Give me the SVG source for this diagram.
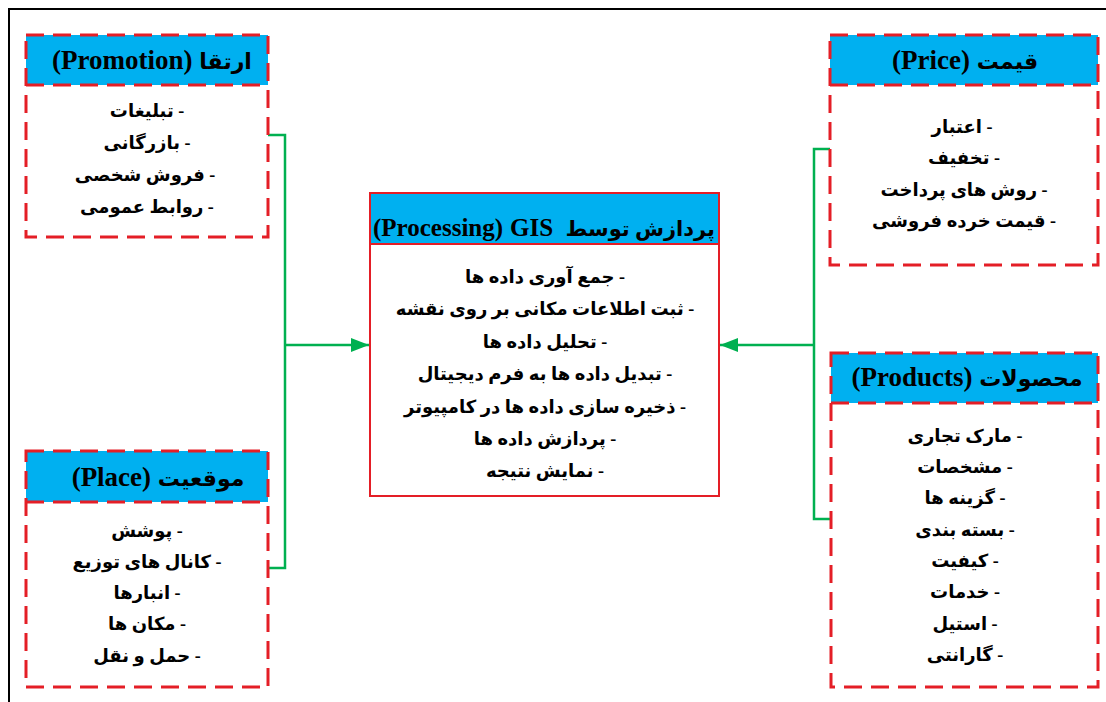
<svg xmlns="http://www.w3.org/2000/svg" width="1106" height="702" viewBox="0 0 1106 702">
<defs>
<marker id="arr" viewBox="0 0 18 14" refX="18" refY="7" markerWidth="18" markerHeight="14" markerUnits="userSpaceOnUse" orient="auto">
<path d="M0,0 L18,7 L0,14 Z" fill="#00B050"/>
</marker>
</defs>
<style>
.frame{fill:none;stroke:#000;stroke-width:2}
.hdr{fill:#00B0F0}
.dash{fill:none;stroke:#E41E26;stroke-width:3;stroke-dasharray:18 9}
.solid{fill:none;stroke:#E41E26;stroke-width:2}
.conn{fill:none;stroke:#00B050;stroke-width:2.5}
text{font-family:"Liberation Serif","DejaVu Sans",serif;font-weight:bold;fill:#000;text-anchor:middle;direction:rtl}
.h{font-size:27px}
.ha{font-size:22px}
.i{font-size:18px}
.ltr{direction:ltr;text-anchor:start;font-size:25px}
.rtl-end{text-anchor:start;font-size:21px}
</style>
<rect class="frame" x="9" y="9" width="1110" height="710"/>

<g id="connectors">
<polyline class="conn" points="268,135 285,135 285,568 268,568"/>
<line class="conn" x1="285" y1="345" x2="369" y2="345" marker-end="url(#arr)"/>
<polyline class="conn" points="830,149 814,149 814,519 831,519"/>
<line class="conn" x1="814" y1="345" x2="720" y2="345" marker-end="url(#arr)"/>
</g>

<g id="promotion">
<rect class="hdr" x="26" y="35" width="242" height="50"/>
<rect class="dash" x="26" y="35" width="242" height="202"/>
<line class="dash" x1="26" y1="85" x2="268" y2="85"/>
<text class="h" x="152" y="69"><tspan class="ha">ارتقا</tspan> (Promotion)</text>
<text class="i" x="147" y="117">- تبلیغات</text>
<text class="i" x="147" y="149">- بازرگانی</text>
<text class="i" x="145" y="181">- فروش شخصی</text>
<text class="i" x="147" y="213">- روابط عمومی</text>
</g>

<g id="price">
<rect class="hdr" x="830" y="35" width="268" height="50"/>
<rect class="dash" x="830" y="35" width="268" height="230"/>
<line class="dash" x1="830" y1="85" x2="1098" y2="85"/>
<text class="h" x="965" y="69"><tspan class="ha">قیمت</tspan> (Price)</text>
<text class="i" x="962" y="133">- اعتبار</text>
<text class="i" x="964" y="164">- تخفیف</text>
<text class="i" x="964" y="196">- روش های پرداخت</text>
<text class="i" x="964" y="227">- قیمت خرده فروشی</text>
</g>

<g id="processing">
<rect class="hdr" x="370" y="193" width="349" height="51"/>
<rect class="solid" x="370" y="193" width="349" height="303"/>
<line class="solid" x1="370" y1="244" x2="719" y2="244"/>
<text class="rtl-end" x="715" y="236">پردازش توسط</text>
<text class="ltr" x="510" y="236">GIS</text>
<text class="ltr" x="373" y="236">(Processing)</text>
<text class="i" x="545" y="283">- جمع آوری داده ها</text>
<text class="i" x="545" y="315">- ثبت اطلاعات مکانی بر روی نقشه</text>
<text class="i" x="545" y="348">- تحلیل داده ها</text>
<text class="i" x="545" y="380">- تبدیل داده ها به فرم دیجیتال</text>
<text class="i" x="545" y="413">- ذخیره سازی داده ها در کامپیوتر</text>
<text class="i" x="545" y="445">- پردازش داده ها</text>
<text class="i" x="545" y="477">- نمایش نتیجه</text>
</g>

<g id="place">
<rect class="hdr" x="26" y="451" width="242" height="51"/>
<rect class="dash" x="26" y="451" width="242" height="236"/>
<line class="dash" x1="26" y1="502" x2="268" y2="502"/>
<text class="h" x="158" y="486"><tspan class="ha">موقعیت</tspan> (Place)</text>
<text class="i" x="147" y="537">- پوشش</text>
<text class="i" x="147" y="568">- کانال های توزیع</text>
<text class="i" x="147" y="599">- انبارها</text>
<text class="i" x="147" y="630">- مکان ها</text>
<text class="i" x="147" y="662">- حمل و نقل</text>
</g>

<g id="products">
<rect class="hdr" x="831" y="353" width="267" height="50"/>
<rect class="dash" x="831" y="353" width="267" height="334"/>
<line class="dash" x1="831" y1="403" x2="1098" y2="403"/>
<text class="h" x="967" y="386"><tspan class="ha">محصولات</tspan> (Products)</text>
<text class="i" x="965" y="442">- مارک تجاری</text>
<text class="i" x="965" y="473">- مشخصات</text>
<text class="i" x="965" y="504">- گزینه ها</text>
<text class="i" x="965" y="536">- بسته بندی</text>
<text class="i" x="965" y="567">- کیفیت</text>
<text class="i" x="965" y="598">- خدمات</text>
<text class="i" x="965" y="630">- استیل</text>
<text class="i" x="965" y="661">- گارانتی</text>
</g>
</svg>
